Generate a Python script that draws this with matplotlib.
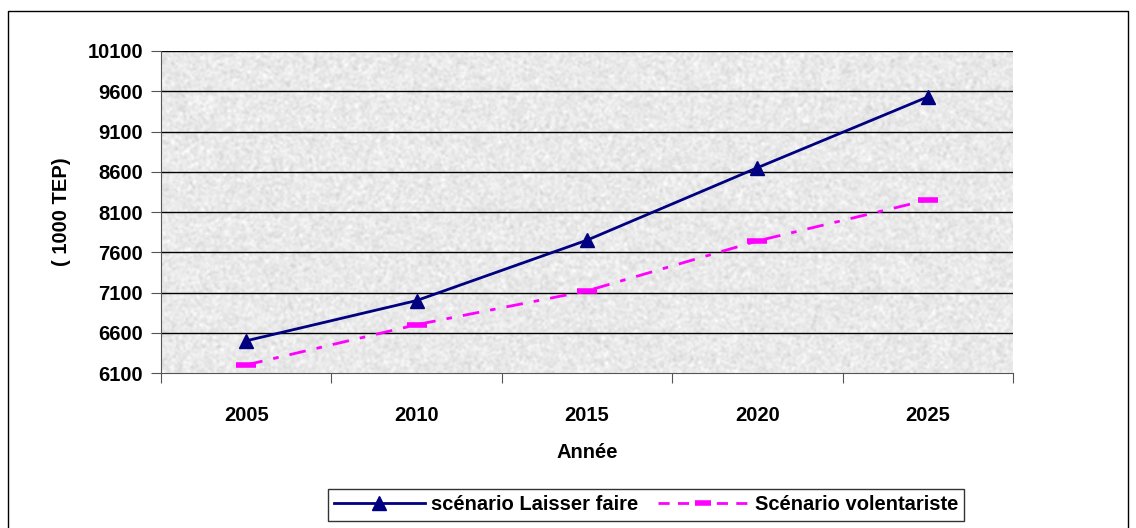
import numpy as np
import matplotlib
matplotlib.use("Agg")
import matplotlib.pyplot as plt
from matplotlib.lines import Line2D

plt.rcParams["font.family"] = ["Liberation Sans", "DejaVu Sans"]

# ── data ──────────────────────────────────────────────────────────────
years = ["2005", "2010", "2015", "2020", "2025"]
laisser_faire = [6500, 7000, 7750, 8650, 9530]
volontariste = [6200, 6700, 7120, 7740, 8250]
y_ticks = [6100, 6600, 7100, 7600, 8100, 8600, 9100, 9600, 10100]

NAVY = "#000080"
MAGENTA = "#FF00FF"
FS = 14.5

fig = plt.figure(figsize=(11.36, 5.28), dpi=100)
fig.patch.set_facecolor("white")

# outer chart frame (bottom edge runs off the page)
frame_l, frame_r, frame_t = 8 / 1136, 1128 / 1136, 1 - 11 / 528
fig.add_artist(Line2D([frame_l, frame_l, frame_r, frame_r],
                      [-0.01, frame_t, frame_t, -0.01],
                      transform=fig.transFigure, color="black", lw=1.0))

ax = fig.add_axes([161 / 1136, 1 - 373 / 528, 852 / 1136, 322 / 528])

x = np.arange(len(years))
ax.set_xlim(-0.5, len(years) - 0.5)
ax.set_ylim(y_ticks[0], y_ticks[-1])

# grainy grey plot-area fill
rng = np.random.RandomState(7)
noise = rng.normal(0, 1, (200, 520))
k = np.ones(2) / 2
noise = np.apply_along_axis(lambda r: np.convolve(r, k, mode="same"), 1, noise)
noise = np.apply_along_axis(lambda c: np.convolve(c, k, mode="same"), 0, noise)
tex = np.clip(0.915 + 0.05 * noise, 0.72, 1.0)
ax.imshow(tex, cmap="gray", vmin=0, vmax=1, aspect="auto", interpolation="bilinear",
          extent=(-0.5, len(years) - 0.5, y_ticks[0], y_ticks[-1]), zorder=0)

# horizontal gridlines
for yv in y_ticks[1:]:
    ax.axhline(yv, color="black", lw=1.0, zorder=1)

ax.plot(x, laisser_faire, color=NAVY, lw=2.0, marker="^", markersize=10,
        markerfacecolor=NAVY, markeredgecolor=NAVY, zorder=3)
ax.plot(x, volontariste, color=MAGENTA, lw=2.0, dashes=(6, 4, 2, 4),
        marker="_", markersize=14, markeredgewidth=4, markeredgecolor=MAGENTA, zorder=3)

# axes styling
for side in ("top", "right"):
    ax.spines[side].set_visible(False)
ax.spines["left"].set_color("#555555")
ax.spines["bottom"].set_color("#555555")

ax.set_yticks(y_ticks)
ax.set_yticklabels([str(v) for v in y_ticks], fontsize=FS, fontweight="bold")
ax.set_xticks(np.arange(len(years) + 1) - 0.5, minor=False)
ax.set_xticklabels([])
ax.set_xticks(x, minor=True)
ax.set_xticklabels(years, minor=True, fontsize=FS, fontweight="bold")
ax.tick_params(axis="x", which="minor", length=0, pad=24)
ax.tick_params(axis="x", which="major", length=7, color="#555555", direction="out")
ax.tick_params(axis="y", length=7, color="#555555", direction="out", pad=6)

ax.set_xlabel("Année", fontsize=FS, fontweight="bold", labelpad=13)
ax.set_ylabel("( 1000 TEP)", fontsize=FS, fontweight="bold", labelpad=12)

handles = [
    Line2D([], [], color=NAVY, lw=2.0, marker="^", markersize=10),
    Line2D([], [], color=MAGENTA, lw=2.0, dashes=(4, 3), marker="_",
           markersize=12, markeredgewidth=4),
]
leg = fig.legend(handles, ["scénario Laisser faire", "Scénario volentariste"],
                 loc="center", bbox_to_anchor=(646 / 1136, 1 - 505 / 528), ncol=2,
                 frameon=True, fancybox=False, edgecolor="black", handlelength=4.5,
                 columnspacing=1.0, handletextpad=0.3, borderpad=0.3,
                 prop={"size": FS, "weight": "bold"})
leg.get_frame().set_linewidth(1.0)

fig.savefig("out.png", dpi=100, facecolor="white")
